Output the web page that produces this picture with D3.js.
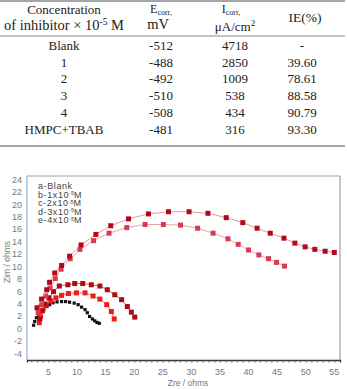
<!DOCTYPE html>
<html>
<head>
<meta charset="utf-8">
<script src="https://cdnjs.cloudflare.com/ajax/libs/d3/7.8.5/d3.min.js"></script>
<style>
  body { margin: 0; background: #fff; }
  svg text { font-family: "Liberation Sans", Arial, sans-serif; }
  .tbl text { font-family: "Liberation Serif", "Times New Roman", serif; fill: #222; }
</style>
</head>
<body>
<svg id="chart" width="347" height="389"></svg>
<script>
// Table data
var concentrations = ["Blank", "1", "2", "3", "4", "HMPC+TBAB"];
var ecorr = ["-512", "-488", "-492", "-510", "-508", "-481"];
var icorr = ["4718", "2850", "1009", "538", "434", "316"];
var ie = ["-", "39.60", "78.61", "88.58", "90.79", "93.30"];

// Nyquist data (Zre, Zim in ohms)
var seriesNames = ["a-Blank", "b-1x10", "c-2x10", "d-3x10", "e-4x10"];
var aZre = [2.4, 2.6, 2.9, 3.3, 3.8, 4.2, 4.7, 5.2, 5.8, 6.5, 7.3, 8.0, 8.7, 9.5, 10.2, 10.8, 11.4, 11.8, 12.2, 12.7, 13.1, 13.5, 13.9];
var aZim = [0.6, 1.2, 1.8, 2.3, 2.8, 3.2, 3.6, 3.9, 4.2, 4.35, 4.4, 4.4, 4.3, 4.15, 3.9, 3.5, 3.1, 2.6, 2.0, 1.6, 1.3, 1.05, 0.9];
var bZre = [3.4, 3.6, 4.0, 4.6, 5.4, 6.3, 7.3, 8.5, 9.9, 11.4, 12.8, 14.0, 15.2, 16.0, 16.5];
var bZim = [1.0, 2.0, 3.0, 3.8, 4.5, 5.0, 5.4, 5.7, 5.8, 5.8, 5.3, 4.8, 3.9, 2.8, 1.6];
var cZre = [3.5, 3.9, 4.4, 5.1, 5.9, 6.9, 8.4, 9.6, 11.0, 12.5, 14.0, 15.3, 16.6, 17.8, 18.8, 19.5, 20.1];
var cZim = [1.6, 2.9, 4.0, 5.0, 6.0, 6.9, 7.1, 7.3, 7.3, 7.1, 6.9, 6.3, 5.5, 4.7, 3.6, 2.7, 1.9];
var dZre = [3.2, 3.8, 4.5, 5.3, 6.2, 7.2, 8.8, 10.5, 12.9, 15.6, 18.7, 21.9, 25.1, 28.1, 31.1, 33.8, 36.4, 38.2, 40.0, 41.8, 43.5, 44.9, 46.3];
var dZim = [2.6, 3.9, 5.3, 6.6, 8.1, 9.6, 11.3, 12.8, 14.2, 15.4, 16.3, 16.8, 16.8, 16.7, 16.2, 15.4, 14.5, 13.6, 12.7, 11.9, 11.3, 10.7, 10.1];
var eZre = [3.0, 3.8, 4.7, 5.2, 6.1, 7.3, 8.7, 10.7, 13.3, 15.9, 19.0, 22.5, 26.0, 29.6, 32.9, 36.1, 39.0, 41.5, 43.8, 46.2, 48.1, 49.9, 51.6, 53.4, 55.0];
var eZim = [3.4, 4.8, 6.3, 7.5, 9.0, 10.2, 11.7, 13.5, 15.2, 16.6, 17.7, 18.5, 18.85, 18.85, 18.6, 17.9, 17.1, 16.2, 15.4, 14.6, 13.8, 13.2, 12.8, 12.5, 12.3];

var xTicks = [5, 10, 15, 20, 25, 30, 35, 40, 45, 50, 55];
var yTicks = [-4, -2, 0, 2, 4, 6, 8, 10, 12, 14, 16, 18, 20, 22, 24];

var svg = d3.select("#chart");

// ---- Table ----
var tbl = svg.append("g").attr("class", "tbl");
var colX = [64, 161, 235, 302];

tbl.append("line").attr("x1", 0).attr("x2", 345).attr("y1", 1).attr("y2", 1)
    .attr("stroke", "#888").attr("stroke-width", 1.5);
tbl.append("line").attr("x1", 0).attr("x2", 345).attr("y1", 36).attr("y2", 36)
    .attr("stroke", "#888").attr("stroke-width", 1);
tbl.append("line").attr("x1", 0).attr("x2", 345).attr("y1", 146).attr("y2", 146)
    .attr("stroke", "#888").attr("stroke-width", 1.5);

// header
tbl.append("text").attr("x", colX[0]).attr("y", 14).attr("text-anchor", "middle")
    .attr("font-size", 13).text("Concentration");
var h2 = tbl.append("text").attr("x", colX[0]).attr("y", 30).attr("text-anchor", "middle")
    .attr("font-size", 14.5);
h2.append("tspan").text("of inhibitor \u00d7 10");
h2.append("tspan").attr("dy", -5).attr("font-size", 9.5).text("-5");
h2.append("tspan").attr("dy", 5).text(" M");

var e1 = tbl.append("text").attr("x", colX[1]).attr("y", 13).attr("text-anchor", "middle").attr("font-size", 12);
e1.append("tspan").text("E");
e1.append("tspan").attr("font-size", 8).attr("dy", 2).text("corr,");
tbl.append("text").attr("x", colX[1] - 3).attr("y", 29).attr("text-anchor", "middle")
    .attr("font-size", 14.5).text("mV");

var i1 = tbl.append("text").attr("x", colX[2] - 4).attr("y", 13).attr("text-anchor", "middle").attr("font-size", 12);
i1.append("tspan").text("I");
i1.append("tspan").attr("font-size", 8).attr("dy", 2).text("corr,");
var i2 = tbl.append("text").attr("x", colX[2]).attr("y", 31).attr("text-anchor", "middle").attr("font-size", 13);
i2.append("tspan").text("\u03bcA/cm");
i2.append("tspan").attr("dy", -5).attr("font-size", 9).text("2");

tbl.append("text").attr("x", colX[3] + 3).attr("y", 22).attr("text-anchor", "middle")
    .attr("font-size", 13.5).text("IE(%)");

// rows
var rowY = d3.scalePoint().domain(d3.range(concentrations.length)).range([50, 133.5]);
concentrations.forEach(function (c, i) {
    var cols = [c, ecorr[i], icorr[i], ie[i]];
    cols.forEach(function (v, j) {
        tbl.append("text").attr("x", colX[j]).attr("y", rowY(i))
            .attr("text-anchor", "middle").attr("font-size", 13).text(v);
    });
});

// ---- Nyquist plot ----
var pLeft = 27, pRight = 340, pTop = 176, pBottom = 360;
var x = d3.scaleLinear().domain([1.25, 56]).range([pLeft, pRight]);
var y = d3.scaleLinear().domain([-5, 24.6]).range([pBottom, pTop]);

// frame
svg.append("line").attr("x1", pLeft).attr("x2", pRight).attr("y1", pTop).attr("y2", pTop)
    .attr("stroke", "#a0a0a0").attr("stroke-width", 1.2);
svg.append("line").attr("x1", pRight).attr("x2", pRight).attr("y1", pTop).attr("y2", pBottom)
    .attr("stroke", "#a0a0a0").attr("stroke-width", 1.2);
svg.append("line").attr("x1", pLeft).attr("x2", pLeft).attr("y1", pTop).attr("y2", pBottom)
    .attr("stroke", "#8fb0dc").attr("stroke-width", 1.2);

// bottom axis with minor ticks
var xAxis = d3.axisBottom(x).tickValues(d3.range(2, 56, 1)).tickSize(2.5).tickFormat("");
var gx = svg.append("g").attr("transform", "translate(0," + pBottom + ")").call(xAxis);
gx.select(".domain").attr("stroke", "#333").attr("stroke-width", 1.3);
gx.selectAll(".tick line").attr("stroke", "#555");

svg.append("g").selectAll("text").data(xTicks).enter().append("text")
    .attr("x", function (d) { return x(d); })
    .attr("y", 375)
    .attr("text-anchor", "middle")
    .attr("font-size", 9)
    .attr("fill", "#777")
    .text(function (d) { return d; });

svg.append("g").selectAll("text").data(yTicks).enter().append("text")
    .attr("x", 22)
    .attr("y", function (d) { return y(d) + 3; })
    .attr("text-anchor", "end")
    .attr("font-size", 9)
    .attr("fill", "#777")
    .text(function (d) { return d; });

svg.append("text").attr("x", 188).attr("y", 386).attr("text-anchor", "middle")
    .attr("font-size", 8.5).attr("fill", "#777").text("Zre / ohms");
svg.append("text").attr("transform", "translate(10,262) rotate(-90)").attr("text-anchor", "middle")
    .attr("font-size", 8.5).attr("fill", "#777").text("Zim / ohms");

// series
var series = [
    { zre: aZre, zim: aZim, color: "#111", line: null, size: 3.2 },
    { zre: bZre, zim: bZim, color: "#f51818", line: "#f07070", size: 5 },
    { zre: cZre, zim: cZim, color: "#a80c14", line: "#d06060", size: 5 },
    { zre: dZre, zim: dZim, color: "#d93a50", line: "#e8a4ae", size: 5 },
    { zre: eZre, zim: eZim, color: "#b30818", line: "#e49aa4", size: 5 }
];
var lineGen = d3.line().x(function (d) { return x(d[0]); }).y(function (d) { return y(d[1]); });

series.forEach(function (s) {
    var pts = s.zre.map(function (v, i) { return [v, s.zim[i]]; });
    if (s.line) {
        svg.append("path").datum(pts).attr("d", lineGen)
            .attr("fill", "none").attr("stroke", s.line).attr("stroke-width", 1);
    }
    svg.append("g").selectAll("rect").data(pts).enter().append("rect")
        .attr("x", function (d) { return x(d[0]) - s.size / 2; })
        .attr("y", function (d) { return y(d[1]) - s.size / 2; })
        .attr("width", s.size).attr("height", s.size)
        .attr("fill", s.color);
});

// legend
var legY = d3.scalePoint().domain(d3.range(seriesNames.length)).range([189, 223]);
seriesNames.forEach(function (name, i) {
    var t = svg.append("text").attr("x", 38).attr("y", legY(i))
        .attr("font-size", 9).attr("letter-spacing", 0.6).attr("fill", "#444");
    t.append("tspan").text(name);
    if (i > 0) {
        t.append("tspan").attr("dy", -2.5).attr("font-size", 5.5).attr("letter-spacing", 0).text("-5");
        t.append("tspan").attr("dy", 2.5).text("M");
    }
});
</script>
</body>
</html>
